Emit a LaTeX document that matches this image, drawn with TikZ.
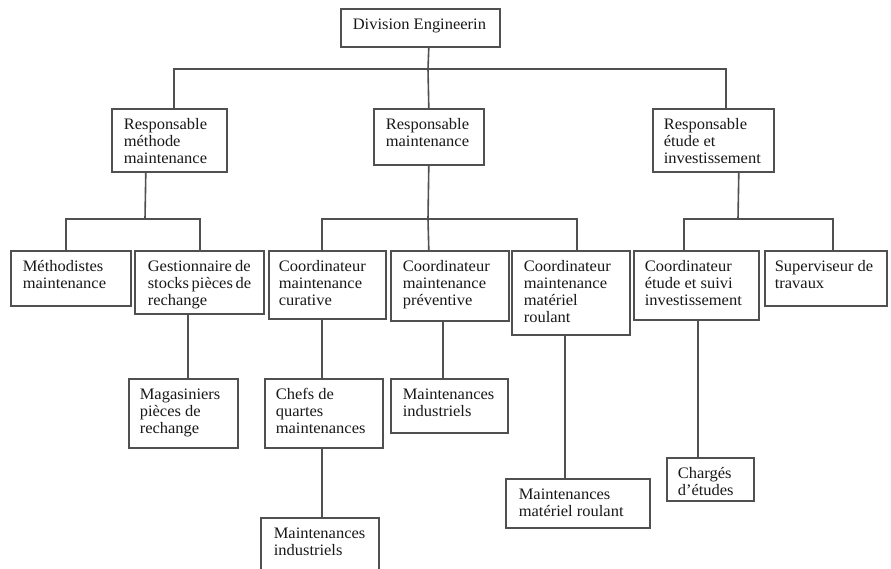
\documentclass[tikz,border=0pt]{standalone}
\usepackage{fontspec}
\setmainfont{Liberation Serif}[FakeStretch=1.03]
\hyphenpenalty=10000
\definecolor{ln}{RGB}{80,80,80}
\definecolor{tx}{RGB}{25,25,25}
\newcommand\boxtop{\vspace*{8.5pt}\strut}
\begin{document}
\begin{tikzpicture}[x=1pt,y=-1pt,
  box/.style={draw=ln, line width=1.6pt, anchor=north west, inner ysep=0pt, text=tx,
    font=\fontsize{16}{17}\selectfont},
  conn/.style={draw=ln, line width=1.6pt}]
\clip (0,0) rectangle (891,568);
\fill[white] (0,0) rectangle (891,568);

% level 0
\node[box, inner xsep=12pt] (root) at (340,8) {\parbox[c][38pt][t]{135pt}{\raggedright\boxtop Division~Engineerin}};
% level 1
\node[box, inner xsep=12pt] (A) at (111,108) {\parbox[c][63pt][t]{91pt}{\raggedright\boxtop Responsable\\méthode\\maintenance}};
\node[box, inner xsep=12pt] (B) at (373,108) {\parbox[c][56pt][t]{86pt}{\raggedright\boxtop Responsable\\maintenance}};
\node[box, inner xsep=11pt] (C) at (652,108) {\parbox[c][63pt][t]{99pt}{\raggedright\boxtop Responsable\\étude~et\\investissement}};
% level 2
\node[box, inner xsep=12pt] (M1) at (10,250) {\parbox[c][55pt][t]{96pt}{\raggedright\boxtop Méthodistes\\maintenance}};
\node[box, inner xsep=13pt] (M2) at (134,250) {\parbox[c][63pt][t]{103pt}{\raggedright\boxtop Gestionnaire~de\\stocks~pièces~de\\rechange}};
\node[box, inner xsep=10pt] (M3) at (268,250) {\parbox[c][68pt][t]{97pt}{\raggedright\boxtop Coordinateur\\maintenance\\curative}};
\node[box, inner xsep=12pt] (M4) at (390,250) {\parbox[c][70pt][t]{94pt}{\raggedright\boxtop Coordinateur\\maintenance\\préventive}};
\node[box, inner xsep=12pt] (M5) at (511,250) {\parbox[c][84pt][t]{94pt}{\raggedright\boxtop Coordinateur\\maintenance\\matériel\\roulant}};
\node[box, inner xsep=11pt] (M6) at (633,250) {\parbox[c][69pt][t]{103pt}{\raggedright\boxtop Coordinateur\\étude~et~suivi\\investissement}};
\node[box, inner xsep=10pt] (M7) at (764,250) {\parbox[c][55pt][t]{102pt}{\raggedright\boxtop Superviseur~de\\travaux}};
% level 3
\node[box, inner xsep=11pt] (L1) at (128,378) {\parbox[c][69pt][t]{87pt}{\raggedright\boxtop Magasiniers\\pièces~de\\rechange}};
\node[box, inner xsep=11pt] (L2) at (264,378) {\parbox[c][69pt][t]{96pt}{\raggedright\boxtop Chefs~de\\quartes\\maintenances}};
\node[box, inner xsep=12pt] (L3) at (390,378) {\parbox[c][54pt][t]{93pt}{\raggedright\boxtop Maintenances\\industriels}};
\node[box, inner xsep=13pt] (L4) at (260,517) {\parbox[c][58pt][t]{92pt}{\raggedright\boxtop Maintenances\\industriels}};
\node[box, inner xsep=13pt] (L5) at (505,478) {\parbox[c][49pt][t]{118pt}{\raggedright\boxtop Maintenances\\matériel~roulant}};
\node[box, inner xsep=11pt] (L6) at (666,457) {\parbox[c][43pt][t]{65pt}{\raggedright\boxtop Chargés\\d’études}};

% bus points
\coordinate (b0) at (428,69);
\coordinate (b1) at (145,219);
\coordinate (b2) at (428,219);
\coordinate (b3) at (738,219);

% connectors
\draw[conn] ([xshift=8.5pt]root.south) -- (b0) -- (B.north);
\draw[conn] ([xshift=4.5pt]A.north) |- (b0) -| ([xshift=12.5pt]C.north);

\draw[conn] ([xshift=-23.5pt]A.south) -- (b1);
\draw[conn] ([xshift=-5pt]M1.north) |- (b1) -| ([xshift=0.5pt]M2.north);

\draw[conn] (B.south) -- (b2) -- ([xshift=-21pt]M4.north);
\draw[conn] ([xshift=-5.5pt]M3.north) |- (b2) -| ([xshift=6pt]M5.north);

\draw[conn] ([xshift=25.5pt]C.south) -- (b3);
\draw[conn] ([xshift=-12.5pt]M6.north) |- (b3) -| ([xshift=7pt]M7.north);

\draw[conn] ([xshift=-11.5pt]M2.south) -- ([xshift=4.5pt]L1.north);
\draw[conn] ([xshift=-5.5pt]M3.south) -- ([xshift=-2pt]L2.north);
\draw[conn] ([xshift=-2pt]L2.south) -- ([xshift=2pt]L4.north);
\draw[conn] ([xshift=-7pt]M4.south) -- ([xshift=-6.5pt]L3.north);
\draw[conn] ([xshift=-6pt]M5.south) -- ([xshift=-13pt]L5.north);
\draw[conn] ([xshift=1.5pt]M6.south) -- ([xshift=-12.5pt]L6.north);
\end{tikzpicture}
\end{document}
